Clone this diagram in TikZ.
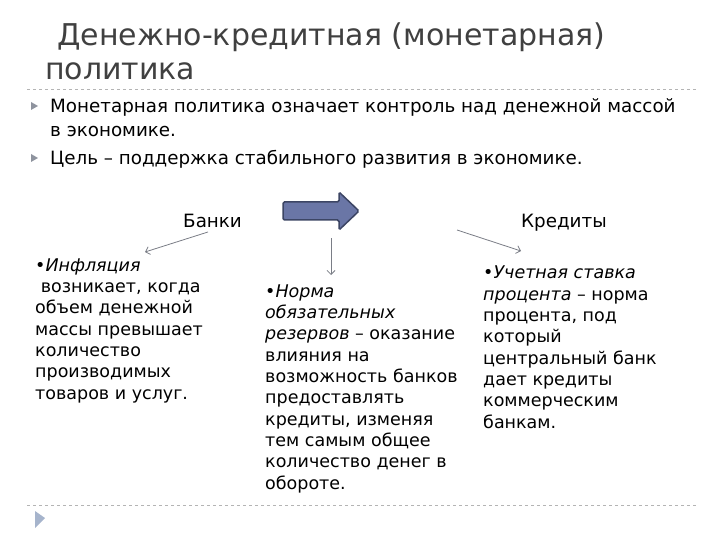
\documentclass[tikz,border=0pt]{standalone}
\usepackage{fontspec}
\setmainfont{DejaVu Sans}
\usetikzlibrary{positioning,arrows.meta}
\definecolor{titlegray}{HTML}{404040}
\definecolor{rulegray}{HTML}{B4B4B4}
\definecolor{bulletgray}{HTML}{8E939E}
\definecolor{arrowfill}{HTML}{6A76A6}
\definecolor{arrowline}{HTML}{3C4564}
\definecolor{linkgray}{HTML}{7A7D86}
\definecolor{markblue}{HTML}{A6B4CC}

\tikzset{
  txt/.style={inner sep=0pt,anchor=base west,font=\fontsize{18.3}{23}\selectfont},
  col/.style={inner sep=0pt,anchor=base west,align=left,
              font=\fontsize{17.5}{21.3}\selectfont},
  link/.style={draw=linkgray,line width=0.8pt,-{Straight Barb[length=4pt,width=8pt]}},
}

\begin{document}
\begin{tikzpicture}[x=1pt,y=-1pt]
  \useasboundingbox (0,0) rectangle (720,540);

  % title
  \node[txt,text=titlegray,font=\fontsize{30}{34}\selectfont] (t1) at (57,46)
    {Денежно-кредитная (монетарная)};
  \node[txt,text=titlegray,font=\fontsize{30}{34}\selectfont] (t2) at (45,80)
    {политика};
  \draw[rulegray,dashed,line width=0.8pt] (27,89) -- (697,89);

  % bullets
  \fill[bulletgray] (31,102) -- (38,106) -- (31,110) -- cycle;
  \fill[bulletgray] (31,154) -- (38,158) -- (31,162) -- cycle;
  \node[txt] (b1) at (50,113) {Монетарная политика означает контроль над денежной массой};
  \node[txt] (b2) at (50,137) {в экономике.};
  \node[txt] (b3) at (50,165) {Цель – поддержка стабильного развития в экономике.};

  % block arrow
  \filldraw[fill=arrowfill,draw=arrowline,line width=1.5pt,rounded corners=1.5pt]
    (283,202) -- (339,202) -- (339,192) -- (359,211) -- (339,230)
    -- (339,220) -- (283,220) -- cycle;

  \node[txt] (banks) at (183,227) {Банки};
  \node[txt] (credit) at (521,227) {Кредиты};

  \coordinate (l0) at (208,232);
  \coordinate (l1) at (145,252);
  \coordinate (m0) at (331,238);
  \coordinate (m1) at (331,275);
  \coordinate (r0) at (457,230);
  \coordinate (r1) at (521,251);
  \foreach \from/\to in {l0/l1,m0/m1,r0/r1}
    \draw[link] (\from) -- (\to);

  % columns (base = last line)
  \node[col] (infl) at (35,399)
    {•\textit{Инфляция}\\ \ возникает, когда\\объем денежной\\массы превышает\\количество\\производимых\\товаров и услуг.};
  \node[col] (norm) at (265,489)
    {•\textit{Норма}\\\textit{обязательных}\\\textit{резервов} – оказание\\влияния на\\возможность банков\\предоставлять\\кредиты, изменяя\\тем самым общее\\количество денег в\\обороте.};
  \node[col] (rate) at (483,428)
    {•\textit{Учетная ставка}\\\textit{процента} – норма\\процента, под\\который\\центральный банк\\дает кредиты\\коммерческим\\банкам.};

  \draw[rulegray,dashed,line width=0.8pt] (27,505) -- (697,505);
  \fill[markblue] (35,511) -- (45,518) -- (35,528) -- cycle;
\end{tikzpicture}
\end{document}
